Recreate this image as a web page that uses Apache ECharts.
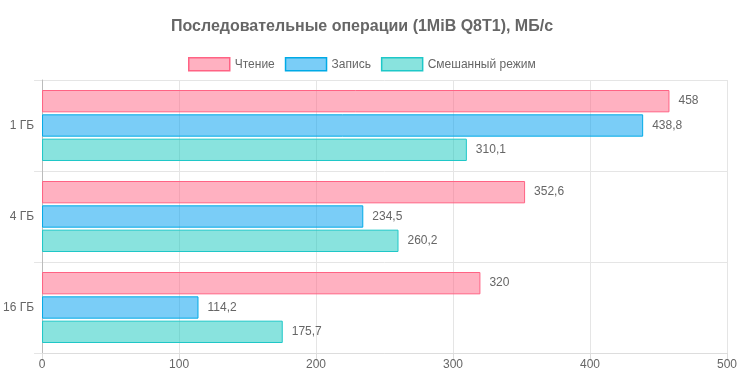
<!DOCTYPE html>
<html><head><meta charset="utf-8">
<script src="https://cdn.jsdelivr.net/npm/echarts@6/dist/echarts.min.js"></script>
<style>html,body{margin:0;padding:0;background:#fff}#c{width:750px;height:392px}</style>
</head><body><div id="c"></div>
<script>
const categories = ['1 ГБ', '4 ГБ', '16 ГБ'];
const readVals = [458, 352.6, 320];
const writeVals = [438.8, 234.5, 114.2];
const mixedVals = [310.1, 260.2, 175.7];
const seriesNames = ['Чтение', 'Запись', 'Смешанный режим'];
const xTicks = [0, 100, 200, 300, 400, 500];

const fnt = 'Liberation Sans, Arial, sans-serif';
const styles = [
  {fill: 'rgba(255,99,132,0.5)', border: 'rgb(255,99,132)'},
  {fill: 'rgba(0,160,240,0.52)', border: 'rgb(0,170,230)'},
  {fill: 'rgba(20,200,190,0.5)', border: 'rgb(30,200,200)'}
];
const data = [readVals, writeVals, mixedVals];
const chart = echarts.init(document.getElementById('c'));
chart.setOption({
  animation: false,
  title: {text: 'Последовательные операции (1MiB Q8T1), МБ/с', left: 171, top: 19, padding: 0,
    textStyle: {fontFamily: fnt, fontSize: 16, fontWeight: 'bold', color: '#666'}},
  legend: {top: 57, left: 188, itemWidth: 41, itemHeight: 13, itemGap: 10, padding: 0,
    icon: 'rect',
    textStyle: {fontFamily: fnt, fontSize: 12, color: '#666'},
    data: seriesNames.map((n, i) => ({name: n, itemStyle: {color: styles[i].fill, borderColor: styles[i].border, borderWidth: 1.5}}))},
  grid: {left: 42, right: 23, top: 80, bottom: 39},
  xAxis: {type: 'value', min: 0, max: 500, interval: 100,
    axisLine: {show: true, lineStyle: {color: '#ddd'}},
    axisTick: {show: true, length: 8, lineStyle: {color: '#ddd'}},
    splitLine: {show: true, lineStyle: {color: '#e5e5e5'}},
    axisLabel: {fontFamily: fnt, fontSize: 12, color: '#666', margin: 6,
      formatter: v => xTicks.includes(v) ? String(v) : ''}},
  yAxis: {type: 'category', data: categories, inverse: true,
    axisLine: {show: true, lineStyle: {color: '#bbb'}},
    axisTick: {show: true, length: 8, lineStyle: {color: '#e5e5e5'}},
    splitLine: {show: true, lineStyle: {color: '#e5e5e5'}},
    axisLabel: {fontFamily: fnt, fontSize: 12, color: '#666', margin: 8}},
  series: seriesNames.map((n, i) => ({
    name: n, type: 'bar', data: data[i],
    barCategoryGap: '22%', barGap: '9%',
    itemStyle: {color: styles[i].fill, borderColor: styles[i].border, borderWidth: 1},
    label: {show: true, position: 'right', distance: 9, fontFamily: fnt, fontSize: 12, color: '#666',
      formatter: p => String(p.value).replace('.', ',')}
  }))
});
</script></body></html>
